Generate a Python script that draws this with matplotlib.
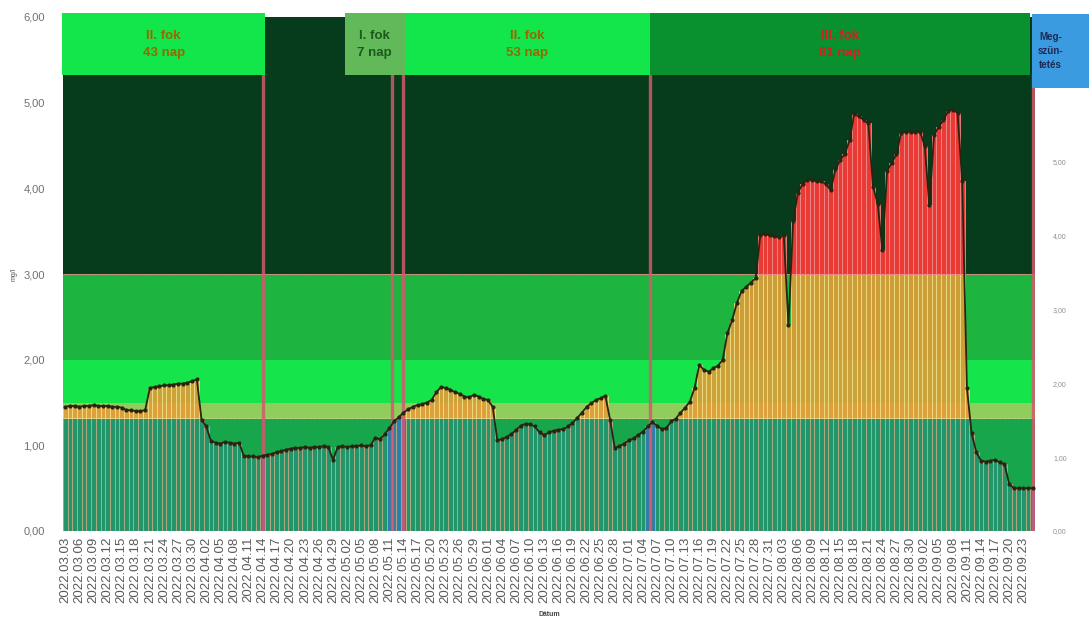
import matplotlib
matplotlib.use('Agg')
import matplotlib.pyplot as plt
import pandas as pd
import numpy as np
from matplotlib.patches import Rectangle

plt.rcParams['font.family'] = ['Liberation Sans', 'DejaVu Sans']

# ---------------- data ----------------
dates = pd.date_range('2022-03-03', '2022-09-25', freq='D')
values = [
    1.45, 1.46, 1.46, 1.45, 1.46, 1.46, 1.47, 1.46, 1.46, 1.46, 1.45, 1.45, 1.44,
    1.41, 1.41, 1.40, 1.40, 1.41,
    1.67, 1.68, 1.69, 1.70, 1.70, 1.71, 1.72, 1.72, 1.73, 1.75, 1.77,
    1.30, 1.22, 1.05, 1.03, 1.02, 1.04, 1.03, 1.02, 1.03,
    0.88, 0.87, 0.87, 0.86, 0.88, 0.89,
    0.90, 0.92, 0.93, 0.95, 0.96, 0.97, 0.97,
    0.98, 0.97, 0.98, 0.98, 0.99, 0.98, 0.83, 0.98, 0.99, 0.98, 0.99, 0.99, 1.00, 0.99, 1.00,
    1.09, 1.07, 1.13, 1.20, 1.28, 1.33, 1.38, 1.42, 1.45, 1.47, 1.48, 1.50, 1.53, 1.62,
    1.68, 1.67, 1.65, 1.62, 1.60, 1.57, 1.56, 1.59, 1.57, 1.54, 1.53, 1.45,
    1.06, 1.07, 1.10, 1.13, 1.18, 1.23, 1.25, 1.25, 1.22, 1.15, 1.12, 1.15, 1.17, 1.18,
    1.19, 1.22, 1.26, 1.32, 1.38, 1.45, 1.49, 1.53, 1.55, 1.58, 1.30,
    0.97, 0.99, 1.02, 1.06, 1.08, 1.12, 1.16, 1.22, 1.27, 1.23, 1.19, 1.20, 1.28, 1.31,
    1.38, 1.44, 1.51, 1.67, 1.94, 1.88, 1.86, 1.90, 1.93, 2.00, 2.31, 2.46, 2.66, 2.80,
    2.85, 2.90, 2.95, 3.45, 3.47, 3.45, 3.44, 3.43, 3.45, 2.40, 3.62, 3.95, 4.05, 4.10,
    4.10, 4.08, 4.08, 4.05, 3.98, 4.22, 4.33, 4.40, 4.56, 4.87, 4.84, 4.80, 4.76, 4.02,
    3.82, 3.28, 4.20, 4.30, 4.40, 4.65, 4.66, 4.66, 4.66, 4.66, 4.50, 3.80, 4.62, 4.72,
    4.80, 4.90, 4.92, 4.88, 4.08, 1.67, 1.14, 0.92, 0.82, 0.81, 0.82, 0.83, 0.80, 0.78,
    0.55, 0.50, 0.50, 0.50, 0.50, 0.50,
]
tick_labels = [d.strftime('%Y.%m.%d') for d in dates[::3]]
band_edges = [0.0, 1.32, 1.50, 2.00, 3.00, 6.00]
phase_texts = ['II. fok\n43 nap', 'I. fok\n7 nap', 'II. fok\n53 nap', 'III. fok\n81 nap']
stop_text = 'Meg-\nszün-\ntetés'
left_ticks = [0, 1, 2, 3, 4, 5, 6]
right_ticks = [0, 1, 2, 3, 4, 5]

# ---------------- styling / layout ----------------
band_colors = ['#17a64b', '#8fcd5c', '#16e44b', '#1db43f', '#063c1b']
phase_spans = [(-0.7, 42.6), (59.5, 72.3), (72.3, 124.5), (124.5, 205.4)]
phase_colors = ['#13e64b', '#62b95a', '#13e64b', '#0a912f']
phase_text_colors = ['#8f6c00', '#1c5a1c', '#8f6c00', '#d42020']
vlines_x = [42, 69.6, 71.9, 124.6, 206]
blue_days = [42, 69, 70, 71, 72, 124, 125, 206]

fig = plt.figure(figsize=(10.89, 6.34), dpi=100)
ax = fig.add_axes([63 / 1089, 1 - 531 / 634, (1035 - 63) / 1089, (531 - 17) / 634])

n = len(values)
x = np.arange(n)
v = np.array(values)

ax.set_xlim(-0.5, n - 0.5)
ax.set_ylim(0, 6)

# background bands
for lo, hi, c in zip(band_edges[:-1], band_edges[1:], band_colors):
    ax.axhspan(lo, hi, color=c, zorder=0, lw=0)

# bars split by band
low_top = np.minimum(v, 1.32)
mid_top = np.clip(v, 1.32, 3.0)
high_top = np.maximum(v, 3.0)
bar_green = ['#2a7fae' if i in blue_days else '#23956a' for i in range(n)]
ax.bar(x, low_top, width=1.0, color=bar_green, edgecolor='#b9ad86', lw=0.6, zorder=2)
ax.bar(x, mid_top - 1.32, bottom=1.32, width=1.0, color='#e79a38', alpha=0.88,
       edgecolor='#f3e28a', lw=0.6, zorder=2)
ax.bar(x, high_top - 3.0, bottom=3.0, width=1.0, color='#ea3a36',
       edgecolor='#f08a8a', lw=0.6, zorder=2)

# top line with markers
ax.plot(x, v, color='#2a2410', lw=1.3, marker='o', ms=2.0, zorder=4)

# vertical phase lines
for xv in vlines_x:
    ax.plot([xv, xv], [0, 5.32], color='#d25a6e', lw=2.4, alpha=0.85, zorder=3)

# header boxes
for (a, b), c, t, tc in zip(phase_spans, phase_colors, phase_texts, phase_text_colors):
    ax.add_patch(Rectangle((a, 5.32), b - a, 0.73, facecolor=c, edgecolor='none',
                           zorder=5, clip_on=False))
    ax.text((a + b) / 2, 5.68, t, ha='center', va='center', color=tc, fontsize=9.5,
            fontweight='bold', linespacing=1.6, zorder=6, clip_on=False)
ax.add_patch(Rectangle((205.8, 5.17), 12.5, 0.86, facecolor='#3b9be0', edgecolor='none',
                       zorder=5, clip_on=False))
ax.text(209.8, 5.6, stop_text, ha='center', va='center', color='#1e2a55', fontsize=7,
        fontweight='bold', linespacing=1.5, zorder=6, clip_on=False)

# axes styling
for s in ax.spines.values():
    s.set_visible(False)
ax.set_yticks(left_ticks)
ax.set_yticklabels([f'{t:.2f}'.replace('.', ',') for t in left_ticks])
ax.tick_params(axis='y', length=0, labelsize=8, labelcolor='#707070', pad=13)
ax.set_xticks(x[::3])
ax.set_xticklabels(tick_labels, rotation=90, fontsize=9.5, color='#5a5a5a')
ax.tick_params(axis='x', length=0, pad=4)
ax.set_ylabel('mg/l', fontsize=5, color='#555555', labelpad=4)
ax.set_xlabel('Dátum', fontsize=5, color='#444444', fontweight='bold', labelpad=6)

ax2 = ax.twinx()
ax2.set_ylim(0, 514 / 73.8)
ax2.set_yticks(right_ticks)
ax2.set_yticklabels([f'{t:.2f}'.replace('.', ',') for t in right_ticks])
ax2.tick_params(axis='y', length=0, labelsize=5, labelcolor='#909090', pad=13)
for s in ax2.spines.values():
    s.set_visible(False)

fig.savefig('out.png', dpi=100, facecolor='white')
